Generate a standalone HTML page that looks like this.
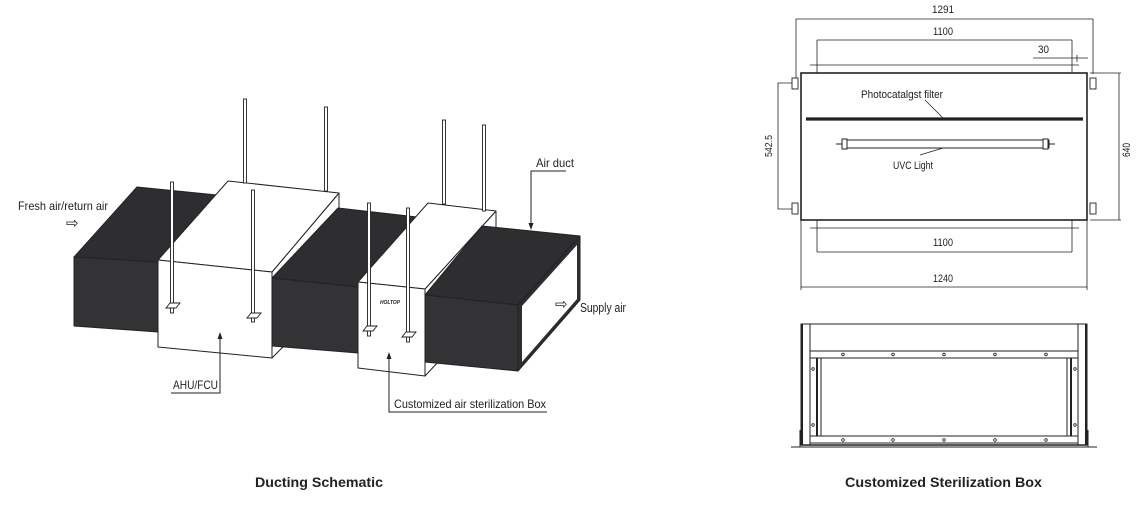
<!DOCTYPE html>
<html><head><meta charset="utf-8"><style>
html,body{margin:0;padding:0;background:#fff;}
svg{display:block;}
text{font-family:"Liberation Sans Narrow","Liberation Sans",sans-serif;fill:#222;}
</style></head><body>
<svg width="1143" height="513" viewBox="0 0 1143 513" xmlns="http://www.w3.org/2000/svg">
<g stroke="#222" stroke-width="1" stroke-linejoin="round">
<polygon points="74,257 137,187 217,195 158,262" fill="#2e2e30"/>
<polygon points="74,257 158,262 158,332 74,326" fill="#333335"/>
<polygon points="272,272 339,193 339,290 272,358" fill="#fff"/>
<polygon points="158,260 228,181 339,193 272,272" fill="#fff"/>
<polygon points="158,260 272,272 272,358 158,347" fill="#fff"/>
<polygon points="272,278 338,208 417,217 358,287" fill="#2e2e30"/>
<polygon points="272,278 358,287 358,353 272,346" fill="#333335"/>
<polygon points="425,289 496,211 496,300 425,376" fill="#fff"/>
<polygon points="358,282 428,203 496,211 425,289" fill="#fff"/>
<polygon points="358,282 425,289 425,376 358,368" fill="#fff"/>
<polygon points="425,295 482,226 580,236 518,305" fill="#2e2e30"/>
<polygon points="425,295 518,305 518,371 425,362" fill="#333335"/>
<polygon points="518,305 580,236 580,300 518,371" fill="#2e2e30"/>
<polygon points="522,306 577,245 577,299 522,362" fill="#fff" stroke="none"/>
</g>
<g fill="#fff" stroke="#222" stroke-width="0.9">
<rect x="243.5" y="99" width="3" height="84"/>
<rect x="324.5" y="107" width="3" height="84"/>
<rect x="442.5" y="120" width="3" height="84"/>
<rect x="482.5" y="125" width="3" height="86"/>
<rect x="170.5" y="182" width="3" height="131"/>
<rect x="251.5" y="190" width="3" height="132"/>
<rect x="367.5" y="203" width="3" height="133"/>
<rect x="406.5" y="208" width="3" height="134"/>
<polygon points="166,308 170,303 180,303 176,308"/>
<polygon points="247,318 251,313 261,313 257,318"/>
<polygon points="363,331 367,326 377,326 373,331"/>
<polygon points="402,337 406,332 416,332 412,337"/>
</g>
<text x="380" y="304" font-size="5" font-weight="bold" font-style="italic" textLength="20" lengthAdjust="spacingAndGlyphs">HOLTOP</text>
<g stroke="#222" stroke-width="1" fill="none">
<polyline points="171,393 220,393 220,336"/>
<polyline points="547,412 389,412 389,356"/>
<polyline points="566,171 531,171 531,226"/>
</g>
<g fill="#222">
<polygon points="220,332 217.5,339 222.5,339"/>
<polygon points="389,352 386.5,359 391.5,359"/>
<polygon points="531,230 528.5,223 533.5,223"/>
</g>
<g font-size="12">
<text x="18" y="210" textLength="90" lengthAdjust="spacingAndGlyphs">Fresh air/return air</text>
<text x="66" y="228" font-size="15">⇨</text>
<text x="536" y="167" textLength="38" lengthAdjust="spacingAndGlyphs">Air duct</text>
<text x="555" y="309" font-size="15">⇨</text>
<text x="580" y="312" font-size="13" textLength="46" lengthAdjust="spacingAndGlyphs">Supply air</text>
<text x="173" y="389" textLength="45" lengthAdjust="spacingAndGlyphs">AHU/FCU</text>
<text x="394" y="408" textLength="152" lengthAdjust="spacingAndGlyphs">Customized air sterilization Box</text>
</g>
<text x="255" y="487" font-size="14" font-weight="bold" textLength="128" lengthAdjust="spacingAndGlyphs">Ducting Schematic</text>
<text x="845" y="487" font-size="14" font-weight="bold" textLength="197" lengthAdjust="spacingAndGlyphs">Customized Sterilization Box</text>

<g stroke="#222" fill="none" stroke-width="0.8">
<line x1="796" y1="19" x2="1093" y2="19"/>
<line x1="796" y1="19" x2="796" y2="80"/>
<line x1="1093" y1="19" x2="1093" y2="74"/>
<line x1="817" y1="40" x2="1072" y2="40"/>
<line x1="817" y1="40" x2="817" y2="73"/>
<line x1="1072" y1="40" x2="1072" y2="73"/>
<line x1="1033" y1="58" x2="1088" y2="58"/>
<line x1="1077" y1="55" x2="1077" y2="62"/>
<line x1="810" y1="65" x2="1079" y2="65"/>
<line x1="810" y1="228" x2="1079" y2="228"/>
<line x1="817" y1="220" x2="817" y2="252"/>
<line x1="1072" y1="220" x2="1072" y2="252"/>
<line x1="817" y1="252" x2="1072" y2="252"/>
<line x1="801" y1="220" x2="801" y2="290"/>
<line x1="1087" y1="220" x2="1087" y2="290"/>
<line x1="801" y1="287" x2="1087" y2="287"/>
<polyline points="795,83 778,83 778,209 795,209"/>
<line x1="1090" y1="73" x2="1121" y2="73"/>
<line x1="1090" y1="220" x2="1121" y2="220"/>
<line x1="1119" y1="73" x2="1119" y2="220"/>
<line x1="925" y1="100" x2="943" y2="118"/>
<line x1="920" y1="155" x2="943" y2="148"/>
</g>
<rect x="801" y="73" width="286" height="147" fill="none" stroke="#222" stroke-width="1.6"/>
<g fill="#fff" stroke="#222" stroke-width="0.9">
<rect x="792" y="78" width="6" height="11"/><rect x="792" y="203" width="6" height="11"/>
<rect x="1090" y="78" width="6" height="11"/><rect x="1090" y="203" width="6" height="11"/>
</g>
<line x1="806" y1="119" x2="1083" y2="119" stroke="#222" stroke-width="3.2"/>
<g stroke="#222" stroke-width="1">
<line x1="836" y1="144" x2="842" y2="144"/><line x1="1049" y1="144" x2="1055" y2="144"/>
<rect x="842" y="140" width="207" height="8" fill="#fff"/>
<rect x="842" y="139" width="5" height="10" fill="#fff"/>
<rect x="1043" y="139" width="5" height="10" fill="#fff"/>
</g>
<g font-size="11">
<text x="932" y="13" textLength="22" lengthAdjust="spacingAndGlyphs">1291</text>
<text x="933" y="35" textLength="20" lengthAdjust="spacingAndGlyphs">1100</text>
<text x="1038" y="53" textLength="11" lengthAdjust="spacingAndGlyphs">30</text>
<text x="861" y="98" textLength="82" lengthAdjust="spacingAndGlyphs">Photocatalgst filter</text>
<text x="893" y="169" textLength="40" lengthAdjust="spacingAndGlyphs">UVC Light</text>
<text x="933" y="246" textLength="20" lengthAdjust="spacingAndGlyphs">1100</text>
<text x="933" y="282" textLength="20" lengthAdjust="spacingAndGlyphs">1240</text>
<text transform="translate(772,157) rotate(-90)" font-size="10" textLength="22" lengthAdjust="spacingAndGlyphs">542.5</text>
<text transform="translate(1130,157) rotate(-90)" textLength="14" lengthAdjust="spacingAndGlyphs">640</text>
</g>
<g stroke="#222" fill="none">
<line x1="801" y1="324" x2="1087" y2="324" stroke-width="1"/>
<rect x="801" y="324" width="9" height="121" stroke-width="1"/>
<line x1="802" y1="324" x2="802" y2="445" stroke-width="2"/>
<rect x="1078" y="324" width="9" height="121" stroke-width="1"/>
<line x1="1086" y1="324" x2="1086" y2="445" stroke-width="2"/>
<rect x="810" y="351" width="268" height="7" stroke-width="1"/>
<rect x="810" y="436" width="268" height="7" stroke-width="1"/>
<line x1="817" y1="358" x2="817" y2="436" stroke-width="2"/>
<line x1="821" y1="358" x2="821" y2="436" stroke-width="1"/>
<line x1="1071" y1="358" x2="1071" y2="436" stroke-width="2"/>
<line x1="1067" y1="358" x2="1067" y2="436" stroke-width="1"/>
<line x1="801" y1="445" x2="1087" y2="445" stroke-width="1.5"/>
<line x1="791" y1="447" x2="1097" y2="447" stroke-width="1"/>
<line x1="800" y1="430" x2="800" y2="447" stroke-width="1"/>
<line x1="1088" y1="430" x2="1088" y2="447" stroke-width="1"/>
</g>
<g fill="#fff" stroke="#222" stroke-width="0.8">
<circle cx="843" cy="354.5" r="1.3"/><circle cx="893" cy="354.5" r="1.3"/><circle cx="944" cy="354.5" r="1.3"/><circle cx="995" cy="354.5" r="1.3"/><circle cx="1046" cy="354.5" r="1.3"/>
<circle cx="843" cy="440" r="1.3"/><circle cx="893" cy="440" r="1.3"/><circle cx="944" cy="440" r="1.3"/><circle cx="995" cy="440" r="1.3"/><circle cx="1046" cy="440" r="1.3"/>
<circle cx="813" cy="369" r="1.3"/><circle cx="813" cy="425" r="1.3"/>
<circle cx="1075" cy="369" r="1.3"/><circle cx="1075" cy="425" r="1.3"/>
</g>
</svg>
</body></html>
